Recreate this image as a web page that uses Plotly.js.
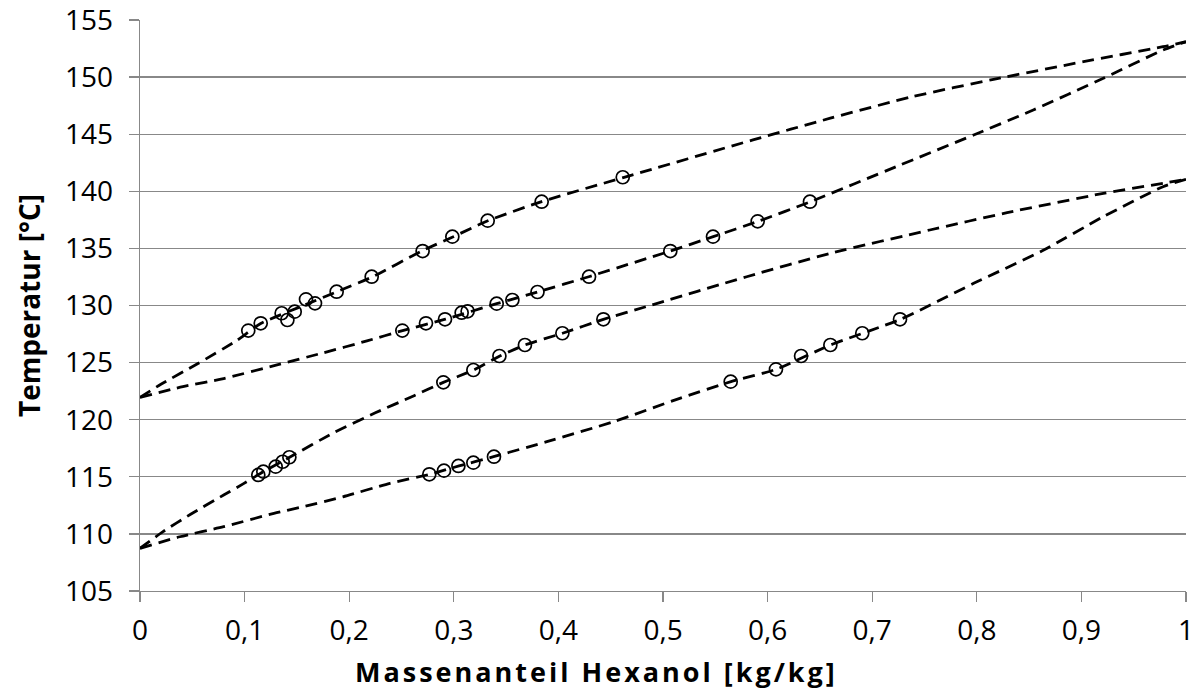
<!DOCTYPE html>
<html>
<head>
<meta charset="utf-8">
<script src="https://cdn.plot.ly/plotly-3.0.1.min.js"></script>
<style>
html,body{margin:0;padding:0;background:#fff;}
#chart{width:1200px;height:691px;}
#chart .annotation-text{letter-spacing:3px;}
</style>
</head>
<body>
<div id="chart"></div>
<script>
// Measured points (open circles)
var dewHiX = [0.1035,0.1154,0.1354,0.1409,0.1479,0.1587,0.1673,0.188,0.2215,0.2702,0.2986,0.3324,0.384,0.4615];
var dewHiY = [127.8,128.44,129.32,128.73,129.46,130.54,130.19,131.21,132.52,134.77,136.03,137.43,139.09,141.23];
var bubHiX = [0.2508,0.2734,0.2916,0.3075,0.3132,0.341,0.356,0.380,0.4293,0.507,0.5478,0.5905,0.6405];
var bubHiY = [127.8,128.44,128.79,129.37,129.49,130.16,130.48,131.18,132.52,134.77,136.03,137.37,139.09];
var dewLoX = [0.1131,0.1179,0.1297,0.1364,0.1428,0.29,0.3187,0.3436,0.368,0.4038,0.443];
var dewLoY = [115.16,115.45,115.89,116.32,116.71,123.27,124.35,125.58,126.54,127.57,128.79];
var bubLoX = [0.2766,0.2906,0.3044,0.3187,0.3384,0.5647,0.608,0.632,0.660,0.6905,0.7266];
var bubLoY = [115.22,115.54,115.95,116.24,116.76,123.33,124.41,125.58,126.54,127.57,128.79];

// Dashed model curves
var curveAX = [0,0.02,0.055,0.092,0.115,0.159,0.188,0.222,0.270,0.299,0.332,0.384,0.462,0.586,0.660,0.739,0.816,0.902,0.978,1];
var curveAY = [121.95,123.1,124.9,126.9,128.4,130.1,131.2,132.5,134.8,136.0,137.4,139.1,141.2,144.5,146.4,148.3,149.8,151.35,152.66,153.1];
var curveBX = [0,0.041,0.080,0.131,0.175,0.217,0.251,0.292,0.341,0.380,0.429,0.507,0.548,0.591,0.641,0.723,0.797,0.854,0.921,0.978,1];
var curveBY = [121.95,122.9,123.6,124.8,125.85,126.9,127.8,128.8,130.16,131.18,132.52,134.77,136.03,137.37,139.09,142.16,144.93,147.12,149.9,152.37,153.1];
var curveCX = [0,0.022,0.048,0.080,0.099,0.118,0.143,0.185,0.225,0.262,0.290,0.319,0.344,0.368,0.404,0.443,0.484,0.580,0.660,0.755,0.829,0.921,0.978,1];
var curveCY = [108.74,110.2,111.7,113.4,114.4,115.45,116.71,118.85,120.6,122.1,123.27,124.35,125.58,126.54,127.57,128.79,129.9,132.52,134.57,136.61,138.13,139.82,140.7,141.05];
var curveDX = [0,0.038,0.080,0.128,0.156,0.194,0.239,0.277,0.305,0.338,0.389,0.453,0.516,0.565,0.608,0.660,0.727,0.797,0.864,0.921,0.978,1];
var curveDY = [108.74,109.75,110.63,111.8,112.38,113.25,114.43,115.22,115.95,116.76,118.08,119.83,121.87,123.33,124.41,126.54,128.79,131.94,134.86,137.78,140.4,141.05];

var xTitle = 'Massenanteil Hexanol [kg/kg]';
var yTitle = 'Temperatur [°C]';

var lineStyle = {color:'#000', width:2.8, dash:'12px,7px', shape:'spline', smoothing:0.6};
function curve(x,y){return {x:x,y:y,type:'scatter',mode:'lines',line:lineStyle,hoverinfo:'skip',showlegend:false};}
function pts(x,y){return {x:x,y:y,type:'scatter',mode:'markers',marker:{symbol:'circle-open',size:13,color:'#000',line:{width:1.7,color:'#000'}},showlegend:false};}

var data = [
  curve(curveAX,curveAY), curve(curveBX,curveBY), curve(curveCX,curveCY), curve(curveDX,curveDY),
  pts(dewHiX,dewHiY), pts(bubHiX,bubHiY), pts(dewLoX,dewLoY), pts(bubLoX,bubLoY)
];

var tickFont = {family:'Open Sans, sans-serif', size:28, color:'#000'};
var layout = {
  width:1200, height:691,
  margin:{l:140, r:14, t:20, b:100},
  paper_bgcolor:'#fff', plot_bgcolor:'#fff',
  separators:', ',
  showlegend:false,
  xaxis:{
    range:[0,1], dtick:0.1, tick0:0, showgrid:false, zeroline:false,
    showline:true, linecolor:'#888', linewidth:1.3,
    ticks:'outside', ticklen:10, tickcolor:'#888', tickwidth:1.3,
    tickfont:tickFont, ticklabelstandoff:4, ticklabeloverflow:'allow'
  },
  yaxis:{
    range:[105,155], dtick:5, tick0:105, showgrid:true, gridcolor:'#888', gridwidth:1.3, zeroline:false,
    showline:true, linecolor:'#888', linewidth:1.3,
    ticks:'outside', ticklen:10, tickcolor:'#888', tickwidth:1.3,
    tickfont:tickFont, ticklabelstandoff:10, ticklabeloverflow:'allow',
    title:{text:'<b>'+yTitle+'</b>', font:{family:'Open Sans, sans-serif', size:28, color:'#000'}, standoff:16}
  },
  annotations:[
    {text:'<b>'+xTitle+'</b>', xref:'paper', yref:'paper', x:0.436, y:-0.141, xanchor:'center', yanchor:'middle',
     showarrow:false, font:{family:'Open Sans, sans-serif', size:27, color:'#000'}}
  ]
};
Plotly.newPlot('chart', data, layout, {displayModeBar:false, staticPlot:true});
</script>
</body>
</html>
